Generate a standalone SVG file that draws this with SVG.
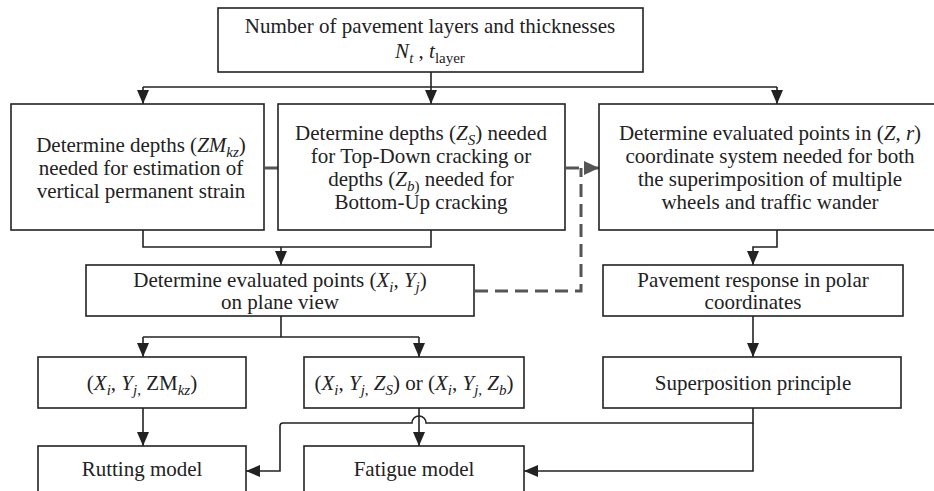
<svg xmlns="http://www.w3.org/2000/svg" width="934" height="491" viewBox="0 0 934 491">
<style>
.box{fill:#fff;stroke:#222;stroke-width:1.6}
.t{font-family:"Liberation Serif","Times New Roman",serif;font-size:21px;fill:#222;text-anchor:middle}
.i{font-style:italic}
.s{font-size:15px}
.ln{fill:none;stroke:#222;stroke-width:1.6}
.dash{fill:none;stroke:#555;stroke-width:3;stroke-dasharray:13 7}
</style>
<defs>
<marker id="ar" viewBox="0 0 14 12" refX="14" refY="6" markerWidth="14" markerHeight="12" markerUnits="userSpaceOnUse" orient="auto">
<path d="M0 0 L14 6 L0 12 z" fill="#222"/>
</marker>
<marker id="arg" viewBox="0 0 15 14" refX="15" refY="7" markerWidth="15" markerHeight="14" markerUnits="userSpaceOnUse" orient="auto">
<path d="M0 0 L15 7 L0 14 z" fill="#555"/>
</marker>
</defs>
<rect width="934" height="491" fill="#fff"/>

<g id="connectors">
<path class="ln" d="M431 72 V87"/>
<path class="ln" d="M143 87 H777"/>
<path class="ln" d="M143 87 V104" marker-end="url(#ar)"/>
<path class="ln" d="M431 87 V104" marker-end="url(#ar)"/>
<path class="ln" d="M777 87 V104" marker-end="url(#ar)"/>
<path class="ln" d="M143 230 V247 H431 V230"/>
<path class="ln" d="M281 247 V265" marker-end="url(#ar)"/>
<path class="ln" d="M281 316 V337"/>
<path class="ln" d="M143 337 H419"/>
<path class="ln" d="M143 337 V357" marker-end="url(#ar)"/>
<path class="ln" d="M419 337 V357" marker-end="url(#ar)"/>
<path class="ln" d="M143 408 V446" marker-end="url(#ar)"/>
<path class="ln" d="M419 408 V446" marker-end="url(#ar)"/>
<path class="ln" d="M753 408 V423 H426 A7 7 0 0 0 412 423 H283 Q280 423 280 426 V471 H246" marker-end="url(#ar)"/>
<path class="ln" d="M753 423 V471 H524" marker-end="url(#ar)"/>
<path class="ln" d="M777 230 V247 H753 V265" marker-end="url(#ar)"/>
<path class="ln" d="M753 316 V357" marker-end="url(#ar)"/>
<path class="dash" d="M265 168 H278"/>
<path class="dash" d="M566 168 H586"/>
<path d="M584 168 H599" fill="none" stroke="#555" stroke-width="3" marker-end="url(#arg)"/>
<path class="dash" d="M475 291 H581 V168"/>
</g>

<g id="n-top">
<rect class="box" x="218" y="8" width="425" height="64"/>
<text class="t" x="430" y="33">Number of pavement layers and thicknesses</text>
<text class="t" x="430" y="58"><tspan class="i">N</tspan><tspan class="s i" dy="5">t</tspan><tspan dy="-5"> , </tspan><tspan class="i">t</tspan><tspan class="s" dy="5">layer</tspan></text>
</g>

<g id="n-depthZM">
<rect class="box" x="11" y="104" width="253" height="126"/>
<text class="t" x="141" y="152">Determine depths (<tspan class="i">ZM</tspan><tspan class="s i" dy="5">kz</tspan><tspan dy="-5">)</tspan></text>
<text class="t" x="141" y="175">needed for estimation of</text>
<text class="t" x="141" y="198">vertical permanent strain</text>
</g>

<g id="n-depthZ">
<rect class="box" x="278" y="104" width="287" height="126"/>
<text class="t" x="421" y="140">Determine depths (<tspan class="i">Z</tspan><tspan class="s i" dy="5">S</tspan><tspan dy="-5">) needed</tspan></text>
<text class="t" x="421" y="163">for Top-Down cracking or</text>
<text class="t" x="421" y="186">depths (<tspan class="i">Z</tspan><tspan class="s" dy="5"><tspan class="i">b</tspan>)</tspan><tspan dy="-5"> needed for</tspan></text>
<text class="t" x="421" y="209">Bottom-Up cracking</text>
</g>

<g id="n-zr">
<rect class="box" x="599" y="104" width="345" height="126"/>
<text class="t" x="770" y="140">Determine evaluated points in (<tspan class="i">Z</tspan>, <tspan class="i">r</tspan>)</text>
<text class="t" x="770" y="163">coordinate system needed for both</text>
<text class="t" x="770" y="186">the superimposition of multiple</text>
<text class="t" x="770" y="209">wheels and traffic wander</text>
</g>

<g id="n-xy">
<rect class="box" x="86" y="265" width="388" height="51"/>
<text class="t" x="280" y="287">Determine evaluated points (<tspan class="i">X</tspan><tspan class="s i" dy="5">i</tspan><tspan dy="-5">, </tspan><tspan class="i">Y</tspan><tspan class="s i" dy="5">j</tspan><tspan dy="-5">)</tspan></text>
<text class="t" x="280" y="309">on plane view</text>
</g>

<g id="n-polar">
<rect class="box" x="603" y="265" width="300" height="51"/>
<text class="t" x="753" y="287">Pavement response in polar</text>
<text class="t" x="753" y="309">coordinates</text>
</g>

<g id="n-xyzm">
<rect class="box" x="38" y="357" width="208" height="51"/>
<text class="t" x="142" y="390">(<tspan class="i">X</tspan><tspan class="s i" dy="5">i</tspan><tspan dy="-5">, </tspan><tspan class="i">Y</tspan><tspan class="s" dy="5"><tspan class="i">j</tspan>,</tspan><tspan dy="-5"> ZM</tspan><tspan class="s i" dy="5">kz</tspan><tspan dy="-5">)</tspan></text>
</g>

<g id="n-xyzs">
<rect class="box" x="304" y="357" width="220" height="51"/>
<text class="t" x="414" y="390">(<tspan class="i">X</tspan><tspan class="s i" dy="5">i</tspan><tspan dy="-5">, </tspan><tspan class="i">Y</tspan><tspan class="s" dy="5"><tspan class="i">j</tspan>,</tspan><tspan dy="-5"> </tspan><tspan class="i">Z</tspan><tspan class="s i" dy="5">S</tspan><tspan dy="-5">) or (</tspan><tspan class="i">X</tspan><tspan class="s i" dy="5">i</tspan><tspan dy="-5">, </tspan><tspan class="i">Y</tspan><tspan class="s" dy="5"><tspan class="i">j</tspan>,</tspan><tspan dy="-5"> </tspan><tspan class="i">Z</tspan><tspan class="s i" dy="5">b</tspan><tspan dy="-5">)</tspan></text>
</g>

<g id="n-super">
<rect class="box" x="603" y="357" width="298" height="51"/>
<text class="t" x="753" y="390">Superposition principle</text>
</g>

<g id="n-rutting">
<rect class="box" x="38" y="446" width="208" height="60"/>
<text class="t" x="142" y="476">Rutting model</text>
</g>

<g id="n-fatigue">
<rect class="box" x="304" y="446" width="220" height="60"/>
<text class="t" x="414" y="476">Fatigue model</text>
</g>
</svg>
